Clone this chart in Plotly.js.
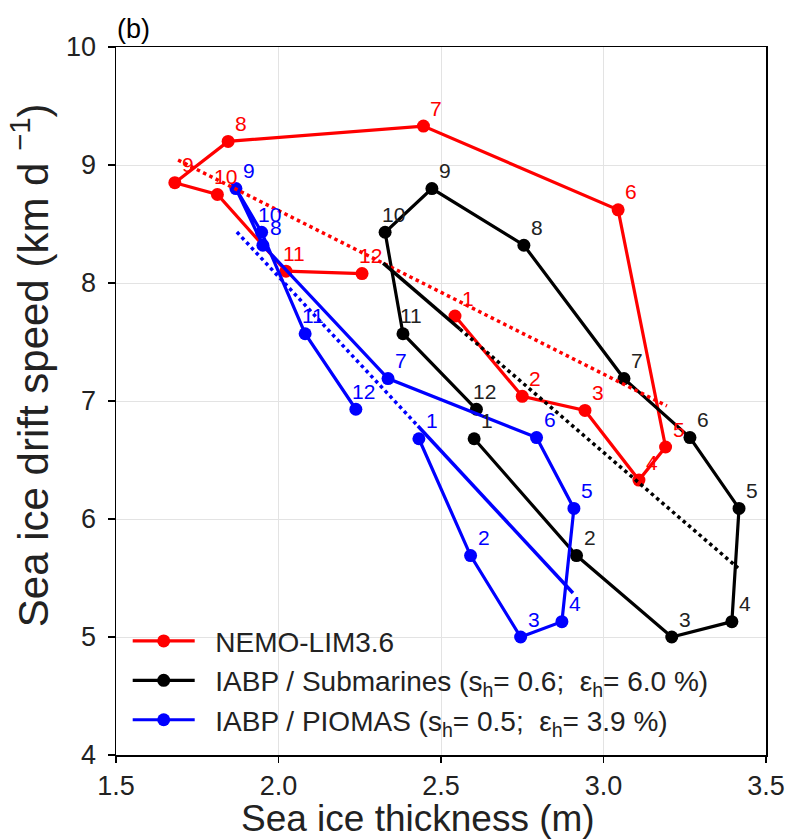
<!DOCTYPE html>
<html>
<head>
<meta charset="utf-8">
<script src="https://cdn.plot.ly/plotly-3.0.1.min.js"></script>
<style>html,body{margin:0;padding:0;background:#fff;}#chart{width:786px;height:840px;}</style>
</head>
<body>
<div id="chart"></div>
<script>
// ---- data ----
const months = ["1","2","3","4","5","6","7","8","9","10","11","12"];
const nemoThick = [2.543, 2.750, 2.943, 3.109, 3.191, 3.045, 2.446, 1.845, 1.681, 1.812, 2.023, 2.257];
const nemoSpeed = [7.72, 7.04, 6.92, 6.33, 6.61, 8.62, 9.33, 9.20, 8.85, 8.75, 8.10, 8.08];
const subThick  = [2.602, 2.917, 3.210, 3.395, 3.417, 3.266, 3.063, 2.755, 2.472, 2.328, 2.383, 2.609];
const pioThick  = [2.432, 2.591, 2.745, 2.872, 2.909, 2.794, 2.337, 1.952, 1.869, 1.948, 2.082, 2.238];
const iabpSpeed = [6.68, 5.69, 5.00, 5.13, 6.09, 6.69, 7.19, 8.32, 8.80, 8.43, 7.57, 6.93];
// regression lines (end points, and the point where the drawn style changes)
const nemoTrendX = [1.691, 3.195];
const nemoTrendY = [9.042, 6.958];
const subTrendX  = [2.322, 2.558, 3.414];
const subTrendY  = [8.169, 7.610, 5.585];
const pioTrendX  = [1.872, 2.429, 2.906];
const pioTrendY  = [8.432, 6.788, 5.373];
const seriesNames = [
  "NEMO-LIM3.6",
  "IABP / Submarines (s<sub>h</sub>= 0.6;\u00a0\u00a0ε<sub>h</sub>= 6.0 %)",
  "IABP / PIOMAS (s<sub>h</sub>= 0.5;\u00a0\u00a0ε<sub>h</sub>= 3.9 %)"
];
const xTitle = "Sea ice thickness (m)";
const yTitle = "Sea ice drift speed (km d\u00a0<sup>\u22121</sup>)";
const panelLabel = "(b)";

const RED = "#ff0000", BLACK = "#000000", BLUE = "#0000ff";
const FONT = "Liberation Sans, Arial, Helvetica, sans-serif";

function series(x, y, color, name, group) {
  return {x: x, y: y, type: "scatter", mode: "lines+markers",
    name: "\u00a0\u00a0" + name,
    legendgroup: group,
    line: {color: color, width: 3.2}, marker: {color: color, size: 13},
    cliponaxis: false};
}
function seg(x, y, color, dash) {
  return {x: x, y: y, type: "scatter", mode: "lines", showlegend: false,
    hoverinfo: "skip", line: {color: color, width: 3.5, dash: dash}};
}

const traces = [
  series(nemoThick, nemoSpeed, RED, seriesNames[0], "g1"),
  series(subThick, iabpSpeed, BLACK, seriesNames[1], "g2"),
  series(pioThick, iabpSpeed, BLUE, seriesNames[2], "g3"),
  seg(nemoTrendX, nemoTrendY, RED, "dot"),
  seg(subTrendX.slice(0, 2), subTrendY.slice(0, 2), BLACK, "solid"),
  seg(subTrendX.slice(1), subTrendY.slice(1), BLACK, "dot"),
  seg(pioTrendX.slice(0, 2), pioTrendY.slice(0, 2), BLUE, "dot"),
  seg(pioTrendX.slice(1), pioTrendY.slice(1), BLUE, "solid")
];

const annotations = [];
function labels(x, y, color) {
  for (let i = 0; i < months.length; i++) {
    annotations.push({x: x[i], y: y[i], xref: "x", yref: "y", text: months[i],
      showarrow: false, xanchor: "center", yanchor: "middle",
      xshift: months[i].length > 1 ? 8 : 13, yshift: 18,
      font: {family: FONT, size: 21, color: color}});
  }
}
labels(nemoThick, nemoSpeed, RED);
labels(subThick, iabpSpeed, "#222222");
labels(pioThick, iabpSpeed, BLUE);
annotations.push({xref: "paper", yref: "paper", x: 0, y: 1, xanchor: "left", yanchor: "bottom",
  yshift: 1, xshift: -1, text: panelLabel, showarrow: false,
  font: {family: FONT, size: 27, color: "#000"}});
annotations.push({xref: "paper", yref: "paper", x: -0.133, y: 0.55, xanchor: "center", yanchor: "middle",
  textangle: -90, text: yTitle, showarrow: false,
  font: {family: FONT, size: 42, color: "#222"}});
annotations.push({xref: "paper", yref: "paper", x: 0.465, y: 0, xanchor: "center", yanchor: "top",
  yshift: -41, text: xTitle, showarrow: false,
  font: {family: FONT, size: 37, color: "#222"}});

const layout = {
  width: 786, height: 840,
  margin: {l: 116, r: 20, t: 47, b: 85},
  paper_bgcolor: "#fff", plot_bgcolor: "#fff",
  font: {family: FONT, color: "#000"},
  showlegend: true,
  legend: {x: 0.018, y: 0.196, xanchor: "left", yanchor: "top",
    bgcolor: "rgba(0,0,0,0)", borderwidth: 0, itemwidth: 62,
    font: {family: FONT, size: 28, color: "#222"},
    traceorder: "grouped", tracegroupgap: 0},
  xaxis: {range: [1.5, 3.5], dtick: 0.5, tickformat: ".1f",
    showgrid: true, gridcolor: "#e3e3e3", gridwidth: 1, zeroline: false,
    showline: true, mirror: true, linecolor: "#000", linewidth: 1.5,
    ticks: "outside", ticklen: 6, tickwidth: 1.5, tickcolor: "#000",
    tickfont: {family: FONT, size: 27, color: "#222"}},
  yaxis: {range: [4, 10], dtick: 1,
    showgrid: true, gridcolor: "#e3e3e3", gridwidth: 1, zeroline: false,
    showline: true, mirror: true, linecolor: "#000", linewidth: 1.5,
    ticks: "outside", ticklen: 7, tickwidth: 1.5, tickcolor: "#000",
    ticklabelstandoff: 6,
    tickfont: {family: FONT, size: 27, color: "#222"}},
  annotations: annotations
};

Plotly.newPlot("chart", traces, layout, {displayModeBar: false, staticPlot: true});
</script>
</body>
</html>
